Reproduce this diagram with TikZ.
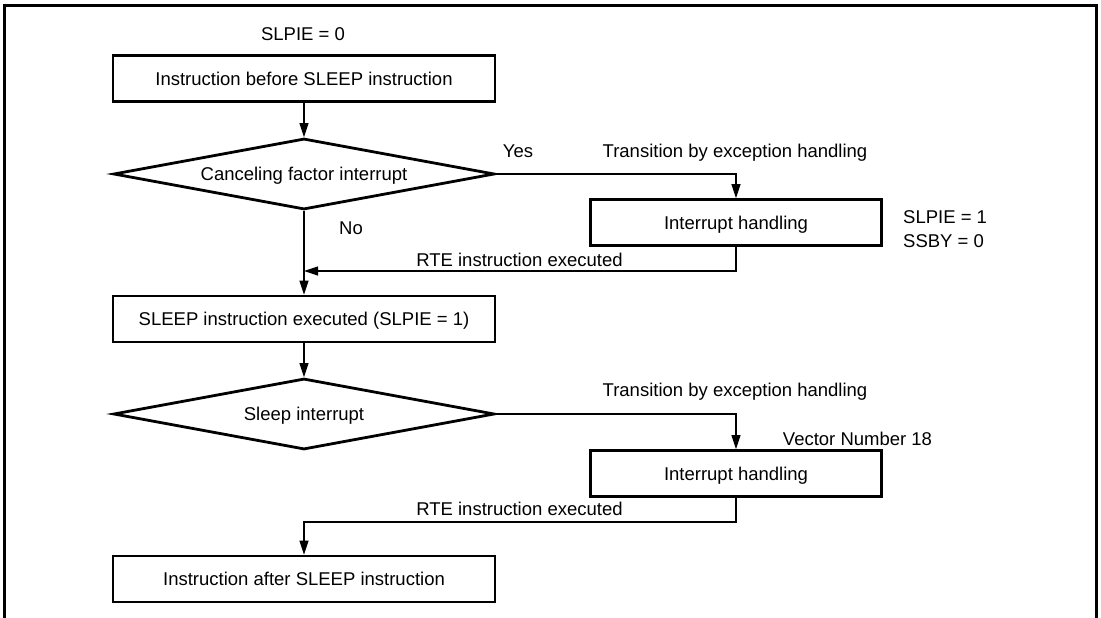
\documentclass[tikz,border=0pt]{standalone}
\usepackage{fontspec}
\setmainfont{Liberation Sans}
\usetikzlibrary{shapes.geometric,arrows.meta}
\begin{document}
\begin{tikzpicture}[x=1pt,y=-1pt,
  every node/.style={font=\fontsize{18.5}{22}\selectfont, text height=13.3pt, text depth=0pt, inner sep=0pt},
  box/.style={draw, line width=2.8pt, minimum width=382pt, minimum height=46pt},
  sbox/.style={draw, line width=2.8pt, minimum width=291pt, minimum height=46pt},
  dia/.style={draw, diamond, line width=2.8pt, aspect=5.4, minimum width=381pt, minimum height=71pt},
  conn/.style={line width=1.2pt},
  arr/.style={conn, -{Triangle[length=14pt,width=9pt]}},
  frame/.style={line width=3pt}
]
\useasboundingbox (0,0) rectangle (1101,618);
% frame (open at the bottom)
\draw[frame] (4,625) -- (4,5.5) -- (1096,5.5) -- (1096,625);

% main column
\node (slpie0) at (303,34) {SLPIE = 0};
\node[box] (b1) at (304,78.5) {Instruction before SLEEP instruction};
\node[dia] (d1) at (304,174) {Canceling factor interrupt};
\node[box] (b3) at (304,319) {SLEEP instruction executed (SLPIE = 1)};
\node[dia] (d2) at (304,414) {Sleep interrupt};
\node[box] (b4) at (304,579) {Instruction after SLEEP instruction};

% right column
\node[sbox] (b2a) at (736,222.5) {Interrupt handling};
\node[sbox] (b2b) at (736,473.5) {Interrupt handling};

% labels
\node (yes) at (518,151) {Yes};
\node (no) at (351,228) {No};
\node (tr1) at (735,151) {Transition by exception handling};
\node (tr2) at (735,390) {Transition by exception handling};
\node (rte1) at (519.5,260) {RTE instruction executed};
\node (rte2) at (519.5,509) {RTE instruction executed};
\node[anchor=west] (slpie1) at (903,217) {SLPIE = 1};
\node[anchor=west] (ssby) at (903,241) {SSBY = 0};
\node (vec) at (857.5,439) {Vector Number 18};

% connectors
\coordinate (j1) at (b1.south |- 0,271);
\draw[arr] (b1.south) -- (d1.north);
\draw[arr] (d1.south) -- (b3.north);
\draw[arr] (d1.east) -| (b2a.north);
\draw[arr] (b2a.south) |- (j1);
\draw[arr] (b3.south) -- (d2.north);
\draw[arr] (d2.east) -| (b2b.north);
\draw[arr] (b2b.south) -- ++(0,24) -| (b4.north);
\end{tikzpicture}
\end{document}
